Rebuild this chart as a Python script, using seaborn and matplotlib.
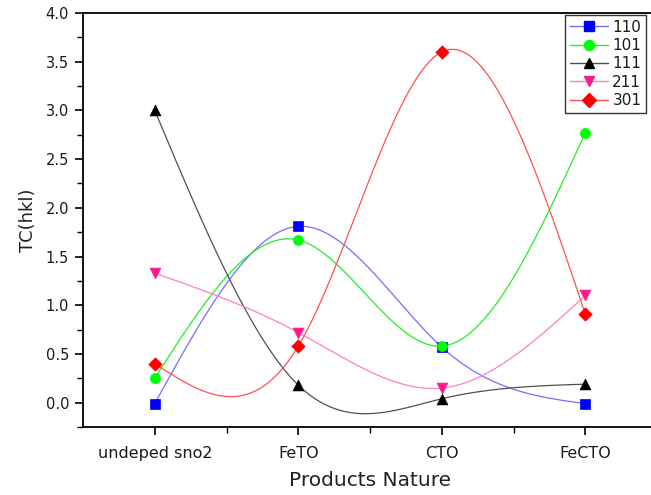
import numpy as np
import pandas as pd
import matplotlib
matplotlib.use("Agg")
import matplotlib.pyplot as plt
from matplotlib.lines import Line2D
from matplotlib.ticker import MultipleLocator, FixedLocator
import seaborn as sns

# Texture coefficients per reflection for each product
products = ["undeped sno2", "FeTO", "CTO", "FeCTO"]
tc_110 = [-0.01, 1.81, 0.57, -0.01]
tc_101 = [0.25, 1.67, 0.58, 2.77]
tc_111 = [3.00, 0.18, 0.04, 0.19]
tc_211 = [1.33, 0.72, 0.15, 1.10]
tc_301 = [0.40, 0.58, 3.60, 0.91]

series = [
    ("110", tc_110, "#0000ff", "#7070ff", "s", 7.0),
    ("101", tc_101, "#00ff00", "#20f020", "o", 7.3),
    ("111", tc_111, "#000000", "#505050", "^", 7.8),
    ("211", tc_211, "#ff1a8c", "#ff80c0", "v", 7.8),
    ("301", tc_301, "#ff0000", "#ff5050", "D", 6.8),
]


def natural_spline(x, y, n=300):
    """Natural cubic spline through (x, y), evaluated on a dense grid."""
    x = np.asarray(x, float)
    y = np.asarray(y, float)
    k = len(x)
    h = np.diff(x)
    A = np.zeros((k, k))
    b = np.zeros(k)
    A[0, 0] = A[-1, -1] = 1.0
    for i in range(1, k - 1):
        A[i, i - 1] = h[i - 1]
        A[i, i] = 2 * (h[i - 1] + h[i])
        A[i, i + 1] = h[i]
        b[i] = 6 * ((y[i + 1] - y[i]) / h[i] - (y[i] - y[i - 1]) / h[i - 1])
    m = np.linalg.solve(A, b)
    xs = np.linspace(x[0], x[-1], n)
    idx = np.clip(np.searchsorted(x, xs) - 1, 0, k - 2)
    x0, x1 = x[idx], x[idx + 1]
    hh = x1 - x0
    t0, t1 = x1 - xs, xs - x0
    ys = (m[idx] * t0 ** 3 / (6 * hh) + m[idx + 1] * t1 ** 3 / (6 * hh)
          + (y[idx] / hh - m[idx] * hh / 6) * t0
          + (y[idx + 1] / hh - m[idx + 1] * hh / 6) * t1)
    return xs, ys


sns.set_style("ticks")
plt.rcParams["font.family"] = ["DejaVu Sans"]

fig = plt.figure(figsize=(6.51, 4.95), dpi=100)
ax = fig.add_axes([83 / 651, 1 - 427 / 495, 574 / 651, 414 / 495])

pos = np.arange(len(products))
handles = []
for name, vals, mcol, lcol, mk, ms in series:
    xs, ys = natural_spline(pos, vals)
    sns.lineplot(x=xs, y=ys, ax=ax, color=lcol, linewidth=0.9, legend=False,
                 estimator=None, sort=False)
    pts = pd.DataFrame({"x": pos, "y": vals})
    sns.scatterplot(data=pts, x="x", y="y", ax=ax, color=mcol, marker=mk,
                    s=ms ** 2, edgecolor=mcol, linewidth=0.5, legend=False,
                    zorder=5)
    handles.append(Line2D([], [], color=lcol, linewidth=1.0, marker=mk,
                          markersize=ms, markerfacecolor=mcol,
                          markeredgecolor=mcol, label=name))

ax.set_xlim(-0.5, 3.5)
ax.set_ylim(-0.25, 4.0)
ax.xaxis.set_major_locator(FixedLocator(pos))
ax.xaxis.set_minor_locator(FixedLocator([0.5, 1.5, 2.5]))
ax.set_xticklabels(products)
ax.yaxis.set_major_locator(MultipleLocator(0.5))
ax.yaxis.set_minor_locator(MultipleLocator(0.25))
ax.yaxis.set_major_formatter(matplotlib.ticker.FormatStrFormatter("%.1f"))

for side in ["left", "bottom", "top", "right"]:
    ax.spines[side].set_visible(True)
    ax.spines[side].set_linewidth(1.3)
    ax.spines[side].set_color("black")

ax.tick_params(axis="both", which="major", direction="out", length=6,
               width=1.2, color="black")
ax.tick_params(axis="both", which="minor", direction="out", length=4,
               width=1.0, color="black")
ax.tick_params(axis="x", which="major", labelsize=11.5, pad=8,
               labelcolor="#1a1a1a")
ax.tick_params(axis="y", which="major", labelsize=10.5, pad=4,
               labelcolor="#1a1a1a")

ax.set_xlabel("Products Nature", fontsize=14.5, color="#222222", labelpad=7)
ax.set_ylabel("TC(hkl)", fontsize=13, color="#222222", labelpad=6)

leg = ax.legend(handles=handles, loc="upper left",
                bbox_to_anchor=(565 / 651, 1 - 15 / 495),
                bbox_transform=fig.transFigure, frameon=True, fancybox=False,
                fontsize=11, handlelength=2.5, handletextpad=0.3,
                labelspacing=0.22, borderpad=0.3, borderaxespad=0.0)
leg.get_frame().set_edgecolor("black")
leg.get_frame().set_linewidth(1.0)
for t in leg.get_texts():
    t.set_color("#1a1a1a")

fig.savefig("out.png", dpi=100)
